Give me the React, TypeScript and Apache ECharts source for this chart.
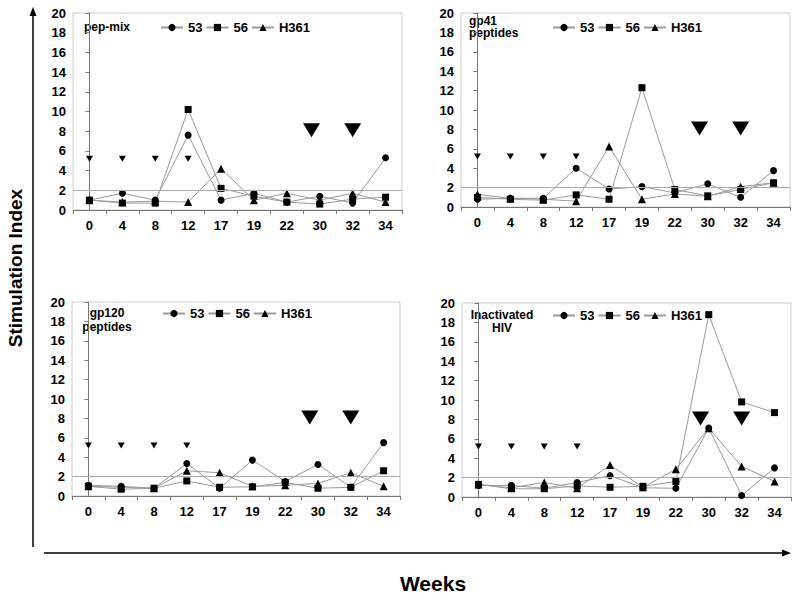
import React, { useEffect, useRef } from "react";
import * as echarts from "echarts";

const weeks = ["0", "4", "8", "12", "17", "19", "22", "30", "32", "34"];
const seriesNames = ["53", "56", "H361"];
const panelTitles = [["pep-mix"], ["gp41", "peptides"], ["gp120", "peptides"], ["Inactivated", "HIV"]];

// pep-mix
const pep53 = [1.0, 1.7, 1.0, 7.6, 1.0, 1.7, 0.8, 1.4, 0.7, 5.3];
const pep56 = [1.0, 0.7, 0.7, 10.2, 2.2, 1.4, 0.8, 0.6, 1.1, 1.3];
const pepH361 = [1.0, 0.8, 0.9, 0.8, 4.2, 1.0, 1.7, 1.0, 1.7, 0.8];
// gp41 peptides
const gp41_53 = [0.8, 0.9, 0.9, 4.0, 1.85, 2.1, 1.45, 2.4, 1.0, 3.75];
const gp41_56 = [1.0, 0.8, 0.7, 1.25, 0.8, 12.3, 1.8, 1.15, 1.8, 2.5];
const gp41_H361 = [1.3, 0.9, 0.8, 0.6, 6.25, 0.8, 1.35, 1.1, 2.1, 2.5];
// gp120 peptides
const gp120_53 = [1.1, 1.0, 0.8, 3.35, 0.8, 3.7, 1.5, 3.25, 0.9, 5.5];
const gp120_56 = [1.0, 0.7, 0.8, 1.55, 0.9, 0.95, 1.4, 0.8, 0.9, 2.6];
const gp120_H361 = [1.0, 0.9, 0.8, 2.6, 2.4, 1.0, 1.1, 1.3, 2.4, 1.0];
// Inactivated HIV
const hiv53 = [1.2, 1.2, 0.9, 1.5, 2.2, 0.95, 0.9, 7.1, 0.15, 3.0];
const hiv56 = [1.3, 0.85, 0.85, 1.15, 1.0, 1.1, 1.6, 18.8, 9.8, 8.7];
const hivH361 = [1.3, 0.95, 1.5, 0.9, 3.3, 1.0, 2.85, 7.1, 3.15, 1.6];

const panelData = [
  [pep53, pep56, pepH361],
  [gp41_53, gp41_56, gp41_H361],
  [gp120_53, gp120_56, gp120_H361],
  [hiv53, hiv56, hivH361],
];

const smallMarkerWeeks = ["0", "4", "8", "12"];
const smallMarkerValue = 5.2;
const bigMarkerPositions = [6.75, 8.0]; // category index positions
const bigMarkerValue = 8.1;
const thresholdValue = 2;

const yTicks = { min: 0, max: 20, interval: 2 };

const grids = [
  { left: 73, top: 13, width: 329, height: 197 },
  { left: 461, top: 13, width: 329, height: 194 },
  { left: 72, top: 302, width: 328, height: 194 },
  { left: 462, top: 303, width: 329, height: 194 },
];
const legendPos = [
  { left: 160, top: 21 },
  { left: 552, top: 21 },
  { left: 162, top: 307 },
  { left: 552, top: 309 },
];
const titlePos = [
  { x: 84, y: 27, align: "left", lh: 12 },
  { x: 469, y: 20.5, align: "left", lh: 12.5 },
  { x: 107, y: 313, align: "center", lh: 13.5 },
  { x: 502, y: 315, align: "center", lh: 13 },
];

const FONT = "'Liberation Sans', Arial, sans-serif";
const symbols = ["circle", "rect", "triangle"];
const symbolSizes = [7, 7, 8];

export default function App() {
  const ref = useRef<HTMLDivElement>(null);
  useEffect(() => {
    if (!ref.current) return;
    const chart = echarts.init(ref.current, null, { renderer: "svg" });
    const xAxis: any[] = [];
    const yAxis: any[] = [];
    const series: any[] = [];
    const legend: any[] = [];
    const graphic: any[] = [];

    grids.forEach((g, i) => {
      xAxis.push({
        type: "category",
        gridIndex: i,
        data: weeks,
        boundaryGap: true,
        axisLine: { lineStyle: { color: "#777", width: 1 } },
        axisTick: { show: true, length: 4, lineStyle: { color: "#777" } },
        axisLabel: { color: "#000", fontSize: 13, fontWeight: "bold", fontFamily: FONT, margin: 9 },
        splitLine: { show: false },
      });
      xAxis.push({
        type: "value",
        gridIndex: i,
        min: -0.5,
        max: 9.5,
        show: false,
        splitLine: { show: false },
      });
      yAxis.push({
        type: "value",
        gridIndex: i,
        min: yTicks.min,
        max: yTicks.max,
        interval: yTicks.interval,
        axisLine: { show: true, lineStyle: { color: "#777", width: 1 } },
        axisTick: { show: true, length: 4, lineStyle: { color: "#777" } },
        axisLabel: { color: "#000", fontSize: 13, fontWeight: "bold", fontFamily: FONT, margin: 7 },
        splitLine: { show: false },
      });
      panelData[i].forEach((vals, k) => {
        series.push({
          type: "line",
          name: seriesNames[k],
          xAxisIndex: 2 * i,
          yAxisIndex: i,
          data: vals,
          symbol: symbols[k],
          symbolSize: symbolSizes[k],
          showAllSymbol: true,
          lineStyle: { color: "#9a9a9a", width: 1 },
          itemStyle: { color: "#000", opacity: 1 },
          z: 3,
          markLine:
            k === 0
              ? {
                  silent: true,
                  symbol: "none",
                  label: { show: false },
                  lineStyle: { color: "#aaa", width: 1, type: "solid" },
                  data: [{ yAxis: thresholdValue }],
                }
              : undefined,
        });
      });
      series.push({
        type: "scatter",
        name: "small-" + i,
        xAxisIndex: 2 * i,
        yAxisIndex: i,
        data: smallMarkerWeeks.map((w) => [w, smallMarkerValue]),
        symbol: "triangle",
        symbolRotate: 180,
        symbolSize: [7, 6],
        itemStyle: { color: "#000", opacity: 1 },
        z: 4,
      });
      series.push({
        type: "scatter",
        name: "big-" + i,
        xAxisIndex: 2 * i + 1,
        yAxisIndex: i,
        data: bigMarkerPositions.map((p) => [p, bigMarkerValue]),
        symbol: "triangle",
        symbolRotate: 180,
        symbolSize: [17, 14],
        itemStyle: { color: "#000", opacity: 1 },
        z: 4,
      });
      legend.push({
        data: seriesNames,
        left: legendPos[i].left,
        top: legendPos[i].top,
        orient: "horizontal",
        itemWidth: 22,
        itemHeight: 9,
        itemGap: 3,
        padding: 0,
        selectedMode: false,
        textStyle: { color: "#000", fontSize: 13, fontWeight: "bold", fontFamily: FONT },
      });
      panelTitles[i].forEach((line, li) => {
        graphic.push({
          type: "text",
          x: titlePos[i].x,
          y: titlePos[i].y + li * titlePos[i].lh,
          style: {
            text: line,
            fill: "#000",
            font: `bold 12px ${FONT}`,
            align: titlePos[i].align,
            verticalAlign: "middle",
          },
        });
      });
    });

    // Axis arrows and big axis titles
    graphic.push(
      { type: "line", shape: { x1: 33, y1: 547, x2: 33, y2: 14 }, style: { stroke: "#000", lineWidth: 1.5 } },
      { type: "polygon", shape: { points: [[33, 7], [29.5, 16], [36.5, 16]] }, style: { fill: "#000" } },
      { type: "line", shape: { x1: 44, y1: 553, x2: 784, y2: 553 }, style: { stroke: "#000", lineWidth: 1.5 } },
      { type: "polygon", shape: { points: [[791, 553], [782, 549.5], [782, 556.5]] }, style: { fill: "#000" } },
      {
        type: "text",
        x: 15,
        y: 268,
        rotation: Math.PI / 2,
        style: {
          text: "Stimulation Index",
          fill: "#000",
          font: `bold 19px ${FONT}`,
          align: "center",
          verticalAlign: "middle",
        },
      },
      {
        type: "text",
        x: 433,
        y: 583,
        style: {
          text: "Weeks",
          fill: "#000",
          font: `bold 21px ${FONT}`,
          align: "center",
          verticalAlign: "middle",
        },
      }
    );

    chart.setOption({
      animation: false,
      backgroundColor: "#fff",
      grid: grids.map((g) => ({ ...g, show: true, borderColor: "#ccc", borderWidth: 1, backgroundColor: "transparent" })),
      xAxis,
      yAxis,
      legend,
      series,
      graphic,
    });
    return () => chart.dispose();
  }, []);
  return <div ref={ref} style={{ position: "fixed", left: 0, top: 0, width: 800, height: 597 }} />;
}
